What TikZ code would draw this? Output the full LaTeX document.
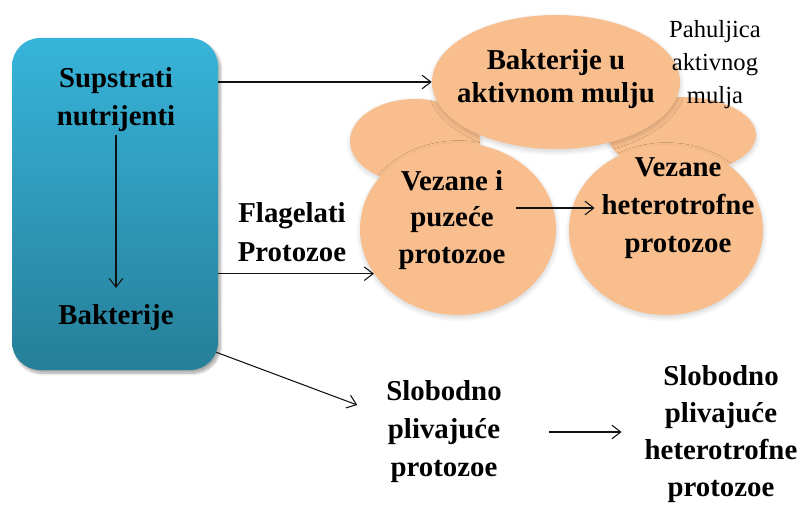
\documentclass[tikz,border=0pt]{standalone}
\usepackage{tikz}
\usepackage{xcolor}
\usepackage{fontspec}
\setmainfont{Liberation Serif}
\usetikzlibrary{
    shapes.geometric,
    arrows.meta,
    positioning,
    calc,
    shadows.blur
}
\definecolor{boxtop}{HTML}{37B4DA}
\definecolor{boxbottom}{HTML}{267F98}
\definecolor{peach}{HTML}{F8BE8D}
\definecolor{dark}{HTML}{111111}
\tikzset{
    % Gradient box on the left
    sourcebox/.style={
        rectangle,
        rounded corners=0.7cm,
        minimum width=5.15cm,
        minimum height=8.3cm,
        top color=boxtop,
        bottom color=boxbottom,
        draw=none,
        blur shadow={shadow blur steps=10, shadow xshift=0.6mm, shadow yshift=-0.8mm, shadow opacity=35}
    },
    % Floc blobs
    blob/.style={
        ellipse,
        inner sep=0pt,
        fill=peach,
        draw=none,
        blur shadow={shadow blur steps=10, shadow blur radius=1.2mm, shadow xshift=0.1mm, shadow yshift=-0.6mm, shadow opacity=18}
    },
    % Bold labels
    label text/.style={
        align=center,
        inner sep=2pt,
        text=black,
        font=\bfseries\fontsize{20.5}{27}\selectfont
    },
    % Thin note
    note text/.style={
        align=center,
        inner sep=2pt,
        text=black,
        font=\fontsize{17.5}{23.5}\selectfont
    },
    % Arrow style
    arrow/.style={
        -{Straight Barb[length=2.2mm, width=3.4mm]},
        line width=0.75pt,
        color=dark
    }
}
\begin{document}
\begin{tikzpicture}
    \useasboundingbox (0,0) rectangle (20.05,-12.675);

    % Left box
    \node[sourcebox] (box) at (2.875, -5.1) {};
    \node[label text] (sup) at (2.9, -2.5) {Supstrati\\nutrijenti};
    \node[label text] (bak) at (2.9, -7.95) {Bakterije};

    % Floc
    \node[blob, minimum width=3.25cm, minimum height=2.1cm] (smallL) at (10.375, -3.525) {};
    \node[blob, minimum width=3.7cm, minimum height=1.9cm] (smallR) at (17.05, -3.375) {};
    \node[blob, minimum width=6.2cm, minimum height=3.35cm] (bact) at (13.9, -2.05) {};
    \node[blob, minimum width=4.9cm, minimum height=4.3cm] (circL) at (11.45, -5.725) {};
    \node[blob, minimum width=4.85cm, minimum height=4.25cm] (circR) at (16.65, -5.75) {};
    \node[label text, font=\bfseries\fontsize{20.5}{24}\selectfont] (bacttext) at (13.9, -1.975) {Bakterije u\\aktivnom mulju};
    \node[label text, font=\bfseries\fontsize{20.5}{26}\selectfont] (vip) at (11.3, -5.5) {Vezane i\\puzeće\\protozoe};
    \node[label text] (vhp) at (16.95, -5.2) {Vezane\\heterotrofne\\protozoe};
    \node[note text] (pah) at (17.875, -1.625) {Pahuljica\\aktivnog\\mulja};

    % Free swimmers
    \node[label text, font=\bfseries\fontsize{20.5}{27.7}\selectfont] (flag) at (7.3, -5.8) {Flagelati\\Protozoe};
    \node[label text] (slob1) at (11.1, -10.8) {Slobodno\\plivajuće\\protozoe};
    \node[label text, font=\bfseries\fontsize{20.5}{26.3}\selectfont] (slob2) at (18.025, -10.85) {Slobodno\\plivajuće\\heterotrofne\\protozoe};

    % Connections
    \draw[arrow] ([yshift=-0.875cm]sup.center) -- ([yshift=0.75cm]bak.center);
    \draw[arrow] (bact.west -| box.east) -- (bact.west);
    \draw[arrow] (circL.208 -| box.east) -- (circL.208);
    \draw[arrow] ([xshift=-0.05cm, yshift=0.45cm]box.south east) -- ([xshift=-0.65cm, yshift=0.675cm]slob1.west);
    \draw[arrow, shorten <=0.2cm, shorten >=0.1cm] (vip.east |- vhp.west) -- (vhp.west);
    \draw[arrow, shorten <=1.1cm, shorten >=0.5cm] (slob1.east) -- (slob1.east -| slob2.west);

\end{tikzpicture}
\end{document}
